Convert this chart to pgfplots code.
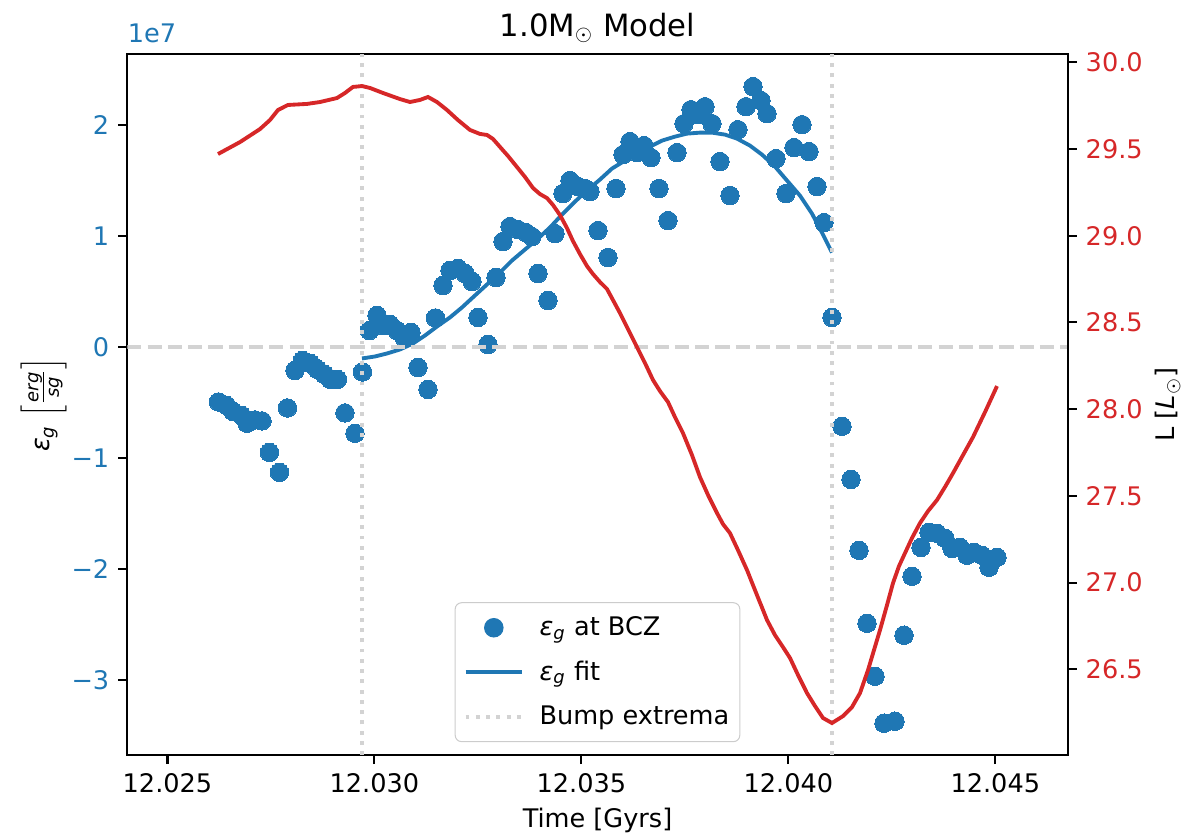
\documentclass[border=0pt]{standalone}
\usepackage{amsmath}
\usepackage{fontspec}
\setmainfont{DejaVu Sans}
\usepackage{pgfplots}
\usepackage{pgfplotstable}
\pgfplotsset{compat=1.18}
\definecolor{tabblue}{HTML}{1F77B4}
\definecolor{tabred}{HTML}{D62728}
\definecolor{lgray}{HTML}{D3D3D3}
\newcommand{\eg}{\textit{ε}\textsubscript{\textit{g}}}

% x in units of 1e-3 Gyr above 12 Gyr; y in units of 1e7
\pgfplotstableread{
x y
26.232 -0.494
26.425 -0.525
26.582 -0.579
26.788 -0.615
26.921 -0.687
27.114 -0.656
27.283 -0.665
27.464 -0.949
27.706 -1.129
27.899 -0.548
28.080 -0.210
28.262 -0.120
28.455 -0.147
28.624 -0.201
28.793 -0.246
28.938 -0.291
29.107 -0.291
29.288 -0.593
29.530 -0.777
29.711 -0.223
29.880 0.150
30.062 0.286
30.219 0.195
30.376 0.205
30.545 0.150
30.714 0.087
30.883 0.132
31.052 -0.183
31.294 -0.381
31.475 0.263
31.656 0.556
31.825 0.691
32.018 0.709
32.188 0.664
32.357 0.592
32.502 0.268
32.743 0.024
32.937 0.628
33.106 0.952
33.275 1.087
33.468 1.060
33.661 1.033
33.806 0.997
33.951 0.664
34.193 0.421
34.362 1.024
34.555 1.385
34.724 1.502
34.918 1.448
35.087 1.430
35.208 1.403
35.401 1.051
35.643 0.808
35.836 1.430
36.005 1.736
36.174 1.853
36.343 1.754
36.512 1.817
36.681 1.709
36.875 1.430
37.092 1.141
37.310 1.754
37.479 2.015
37.648 2.141
37.817 2.096
37.986 2.168
38.155 2.015
38.348 1.673
38.590 1.367
38.783 1.961
38.977 2.168
39.146 2.349
39.339 2.223
39.484 2.105
39.701 1.700
39.943 1.385
40.136 1.799
40.330 2.006
40.499 1.763
40.692 1.448
40.861 1.123
41.054 0.268
41.296 -0.714
41.513 -1.192
41.707 -1.832
41.900 -2.489
42.093 -2.967
42.311 -3.390
42.576 -3.372
42.794 -2.597
42.987 -2.066
43.205 -1.805
43.398 -1.669
43.591 -1.678
43.784 -1.723
43.954 -1.814
44.147 -1.805
44.316 -1.877
44.485 -1.850
44.678 -1.877
44.847 -1.985
45.041 -1.895
}\bczdata

\pgfplotstableread{
x y
29.699 -0.102
30.013 -0.084
30.303 -0.057
30.617 -0.021
30.931 0.033
31.221 0.105
31.511 0.186
31.825 0.268
32.115 0.358
32.429 0.466
32.719 0.565
33.033 0.673
33.323 0.781
33.637 0.880
33.927 0.970
34.241 1.079
34.531 1.195
34.845 1.312
35.135 1.412
35.449 1.511
35.739 1.610
36.053 1.682
36.343 1.745
36.657 1.808
36.947 1.862
37.261 1.898
37.551 1.925
37.865 1.934
38.155 1.934
38.469 1.916
38.759 1.880
39.073 1.817
39.363 1.736
39.677 1.628
39.967 1.502
40.281 1.366
40.571 1.204
40.812 1.033
41.054 0.853
}\fitdata

\pgfplotstableread{
x L
26.220 29.471
26.752 29.540
27.235 29.615
27.476 29.667
27.670 29.725
27.911 29.754
28.370 29.760
28.684 29.771
29.095 29.794
29.288 29.823
29.482 29.858
29.699 29.863
29.892 29.852
30.207 29.823
30.617 29.788
30.859 29.771
31.100 29.783
31.294 29.800
31.511 29.771
31.753 29.725
32.018 29.667
32.308 29.610
32.550 29.587
32.719 29.581
32.864 29.558
33.033 29.512
33.226 29.460
33.444 29.396
33.637 29.339
33.831 29.275
34.000 29.240
34.169 29.217
34.314 29.177
34.483 29.119
34.652 29.044
34.797 28.969
34.966 28.894
35.135 28.825
35.280 28.779
35.449 28.733
35.618 28.693
35.763 28.629
35.932 28.554
36.102 28.473
36.343 28.358
36.536 28.266
36.730 28.168
36.899 28.104
37.092 28.041
37.261 27.954
37.454 27.862
37.672 27.735
37.865 27.608
38.059 27.505
38.276 27.401
38.421 27.337
38.590 27.285
38.783 27.187
39.001 27.072
39.242 26.928
39.484 26.784
39.677 26.697
39.870 26.628
40.040 26.565
40.233 26.467
40.450 26.363
40.644 26.288
40.837 26.219
41.054 26.190
41.320 26.230
41.537 26.282
41.731 26.363
41.924 26.495
42.069 26.611
42.214 26.726
42.383 26.870
42.528 26.997
42.673 27.095
42.818 27.170
42.987 27.257
43.180 27.343
43.374 27.412
43.591 27.476
43.784 27.551
43.978 27.631
44.219 27.735
44.461 27.839
44.751 27.983
45.041 28.133
}\lumdata

\begin{document}
\begin{tikzpicture}
\pgfplotsset{
  common/.style={
    at={(0,0)}, anchor=south west,
    scale only axis, width=366.3bp, height=273.1bp,
    xmin=24.029, xmax=46.749,
    clip mode=individual,
    axis line style={line width=0.8bp, black},
    every tick/.style={black, line width=0.8bp},
    tick align=outside, major tick length=3.5bp,
    tick label style={font=\fontsize{10}{12}\selectfont},
  }
}
\begin{axis}[common,
  ymin=-3.678, ymax=2.643,
  xtick pos=left, ytick pos=left,
  xtick={25,30,35,40,45},
  xticklabels={12.025,12.030,12.035,12.040,12.045},
  ytick={-3,-2,-1,0,1,2},
  yticklabels={−3,−2,−1,0,1,2},
  yticklabel style={tabblue},
  legend style={at={(0.5,0.0185)}, anchor=south, draw=black!20,
    rounded corners=2.5bp, fill=white, fill opacity=0.8, text opacity=1,
    font=\fontsize{10}{12}\selectfont, legend cell align=left,
    row sep=6.8bp, inner xsep=3.3bp, inner ysep=4.5bp,
    nodes={inner sep=0.8bp}},
]
\addplot[only marks, mark=*, mark size=3.6bp, color=tabblue,
  mark options={fill=tabblue, draw=tabblue, line width=0pt}, forget plot]
  table[x=x, y=y] {\bczdata};
\addplot[tabblue, line width=1.5bp, forget plot] table[x=x, y=y] {\fitdata};
\addplot[lgray, line width=1.5bp, dash pattern=on 5.5bp off 2.4bp, forget plot]
  coordinates {(24.029,0) (46.749,0)};
\addplot[lgray, line width=1.5bp, dash pattern=on 1.5bp off 2.5bp, forget plot]
  coordinates {(29.70,-3.678) (29.70,2.643)};
\addplot[lgray, line width=1.5bp, dash pattern=on 1.5bp off 2.5bp, forget plot]
  coordinates {(41.05,-3.678) (41.05,2.643)};
\addlegendimage{legend image code/.code={\path[draw=none, fill=none] (0bp,0bp) -- (28bp,0bp);
  \fill[tabblue, fill opacity=1] (11bp,0bp) circle (3.6bp);}}
\addlegendentry{\eg\ at BCZ}
\addlegendimage{legend image code/.code={\path[draw=none, fill=none] (0bp,0bp) -- (28bp,0bp);
  \draw[tabblue, line width=1.5bp, draw opacity=1] (0bp,0bp) -- (22bp,0bp);}}
\addlegendentry{\eg\ fit}
\addlegendimage{legend image code/.code={\path[draw=none, fill=none] (0bp,0bp) -- (28bp,0bp);
  \draw[lgray, line width=1.5bp, draw opacity=1, dash pattern=on 1.5bp off 2.5bp] (0bp,0bp) -- (22bp,0bp);}}
\addlegendentry{Bump extrema}
\path (rel axis cs:0,1) node[anchor=south west, inner sep=0pt, yshift=4bp, text=tabblue,
  font=\fontsize{10}{12}\selectfont] {1e7};
\path (rel axis cs:0.5,1) node[anchor=base, inner sep=0pt, yshift=7bp,
  font=\fontsize{12}{14}\selectfont] {1.0M$_\odot$ Model};
\path (rel axis cs:0.5,0) ++(0bp,-25.3bp) node[inner sep=0pt,
  font=\fontsize{10}{12}\selectfont] {Time [Gyrs]};
\path (rel axis cs:0,0.5) ++(-32.6bp,0bp) node[rotate=90, inner sep=0pt,
  font=\fontsize{10}{12}\selectfont] {\eg\ $\left[\frac{\textit{erg}}{\textit{sg}}\right]$};
\end{axis}
\begin{axis}[common,
  ymin=26.005, ymax=30.048,
  axis x line=none, axis y line*=right,
  ytick={26.5,27,27.5,28,28.5,29,29.5,30},
  yticklabels={26.5,27.0,27.5,28.0,28.5,29.0,29.5,30.0},
  yticklabel style={tabred},
]
\addplot[tabred, line width=1.5bp] table[x=x, y=L] {\lumdata};
\path (rel axis cs:1,0.5) ++(39bp,0bp) node[rotate=90, inner sep=0pt,
  font=\fontsize{10}{12}\selectfont] {L [\textit{L}$_\odot$]};
\end{axis}
\pgfresetboundingbox
\path[use as bounding box] (-49.58bp,-31.55bp) rectangle (410.43bp,294.13bp);
\end{tikzpicture}
\end{document}
